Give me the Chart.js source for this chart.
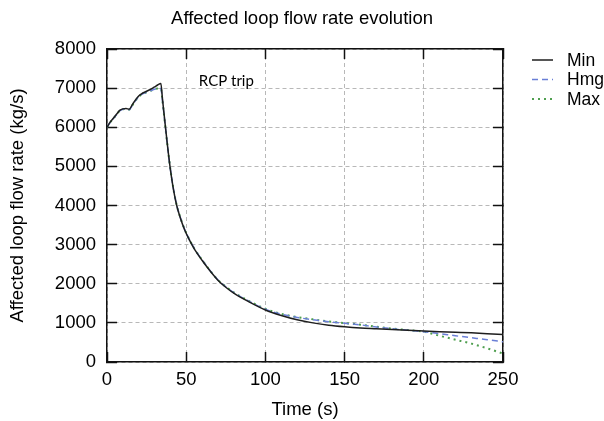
<!DOCTYPE html>
<html>
<head>
<meta charset="utf-8">
<script src="https://cdn.jsdelivr.net/npm/chart.js@4.4.0/dist/chart.umd.min.js"></script>
<style>
  html, body { margin: 0; padding: 0; background: #fff; }
  #wrap { width: 604px; height: 421px; }
</style>
</head>
<body>
<div id="wrap"><canvas id="c" width="604" height="421"></canvas></div>
<script>
// ---- data ----
const times = [0, 2, 4, 6, 8, 10, 12, 14, 16, 18, 20, 22, 24, 26, 28, 30, 32, 34, 35, 36, 37, 38, 39, 40, 42, 44, 46, 49, 52, 55, 60, 65, 70, 75, 80, 90, 100, 110, 120, 130, 140, 150, 160, 170, 180, 190, 200, 210, 220, 230, 240, 250];

const minFlow = [6000, 6130, 6230, 6330, 6430, 6470, 6480, 6460, 6580, 6700, 6800, 6860, 6900, 6940, 6980, 7030, 7080, 7120, 6730, 6350, 5970, 5600, 5250, 4930, 4400, 4000, 3720, 3380, 3120, 2900, 2600, 2330, 2090, 1910, 1760, 1530, 1330, 1190, 1080, 1000, 940, 900, 870, 850, 830, 810, 790, 775, 760, 745, 725, 700];

const hmgFlow = [6000, 6120, 6220, 6320, 6420, 6460, 6470, 6450, 6560, 6680, 6780, 6840, 6880, 6910, 6940, 6970, 6990, 6990, 6680, 6320, 5950, 5590, 5245, 4930, 4410, 4010, 3730, 3390, 3130, 2910, 2610, 2340, 2100, 1920, 1775, 1545, 1350, 1220, 1140, 1080, 1030, 990, 950, 895, 850, 810, 775, 725, 670, 620, 570, 515];

const maxFlow = [6000, 6120, 6220, 6320, 6420, 6460, 6470, 6450, 6560, 6680, 6780, 6840, 6880, 6910, 6940, 6970, 6990, 6990, 6680, 6320, 5950, 5590, 5245, 4930, 4410, 4010, 3730, 3390, 3130, 2910, 2610, 2340, 2100, 1925, 1780, 1550, 1360, 1230, 1150, 1090, 1035, 995, 955, 900, 855, 815, 775, 670, 570, 470, 350, 215];

const seriesLabels = ['Min', 'Hmg', 'Max'];
const xTicks = [0, 50, 100, 150, 200, 250];
const yTicks = [0, 1000, 2000, 3000, 4000, 5000, 6000, 7000, 8000];
const annotationText = 'RCP trip';
const annotationAt = { x: 58, y: 7050 };

// ---- chart ----
const FONT = 'Liberation Sans';
Chart.defaults.color = '#000';
Chart.defaults.font.family = FONT;

const toPoints = (vals) => times.map((t, i) => ({ x: t, y: vals[i] }));
const plainLabel = (v) => String(v);

const gridCommon = {
  color: '#b8b8b8',
  lineWidth: 1,
  drawTicks: true,
  tickLength: -10,
  tickColor: '#111',
  tickWidth: 1.5,
};
const borderCommon = { display: true, color: '#111', width: 1.5, dash: [4, 3] };

const sideLegend = {
  id: 'sideLegend',
  afterDraw(chart) {
    const ctx = chart.ctx;
    const x0 = chart.chartArea.right + 29;
    ctx.save();
    chart.data.datasets.forEach((ds, i) => {
      const y = 60 + i * 19.5;
      ctx.strokeStyle = ds.borderColor;
      ctx.lineWidth = ds.borderWidth;
      ctx.setLineDash(ds.borderDash || []);
      ctx.beginPath();
      ctx.moveTo(x0, y);
      ctx.lineTo(x0 + 21, y);
      ctx.stroke();
      ctx.setLineDash([]);
      ctx.fillStyle = '#000';
      ctx.font = '17.5px "' + FONT + '"';
      ctx.textAlign = 'left';
      ctx.textBaseline = 'alphabetic';
      ctx.fillText(ds.label, x0 + 35, y + 5.7);
    });
    ctx.restore();
  }
};

const noteText = {
  id: 'noteText',
  afterDatasetsDraw(chart) {
    const ctx = chart.ctx;
    const px = chart.scales.x.getPixelForValue(annotationAt.x);
    const py = chart.scales.y.getPixelForValue(annotationAt.y);
    ctx.save();
    ctx.fillStyle = '#000';
    ctx.font = '15px Lato';
    ctx.textAlign = 'left';
    ctx.textBaseline = 'alphabetic';
    ctx.fillText(annotationText, px, py);
    ctx.restore();
  }
};

new Chart(document.getElementById('c'), {
  type: 'line',
  data: {
    datasets: [
      { label: seriesLabels[0], data: toPoints(minFlow), borderColor: '#1e1e1e', borderWidth: 1.5, borderDash: [], pointRadius: 0, fill: false, cubicInterpolationMode: 'monotone' },
      { label: seriesLabels[1], data: toPoints(hmgFlow), borderColor: '#6a7fd6', borderWidth: 1.5, borderDash: [6, 4], pointRadius: 0, fill: false, cubicInterpolationMode: 'monotone' },
      { label: seriesLabels[2], data: toPoints(maxFlow), borderColor: '#4f9f4f', borderWidth: 2, borderDash: [2, 4], pointRadius: 0, fill: false, cubicInterpolationMode: 'monotone' }
    ]
  },
  options: {
    responsive: false,
    animation: false,
    events: [],
    layout: { padding: 0 },
    plugins: {
      legend: { display: false },
      tooltip: { enabled: false },
      title: {
        display: true,
        text: 'Affected loop flow rate evolution',
        color: '#000',
        font: { family: FONT, size: 18.5, weight: 'normal' },
        padding: { top: 7.4, bottom: 19.4 }
      }
    },
    scales: {
      x: {
        type: 'linear', position: 'bottom', min: 0, max: 250,
        afterBuildTicks: (s) => { s.ticks = xTicks.map(v => ({ value: v })); },
        afterFit: (s) => { s.height = 59; },
        grid: { ...gridCommon },
        border: { ...borderCommon },
        ticks: { font: { size: 18.5 }, padding: 17, maxRotation: 0, autoSkip: false, color: '#000', callback: plainLabel },
        title: { display: true, text: 'Time (s)', font: { size: 18.5 }, color: '#000', padding: { top: 0, bottom: 0 } }
      },
      y: {
        type: 'linear', position: 'left', min: 0, max: 8000,
        afterBuildTicks: (s) => { s.ticks = yTicks.map(v => ({ value: v })); },
        afterFit: (s) => { s.width = 107; },
        grid: { ...gridCommon },
        border: { ...borderCommon },
        ticks: { font: { size: 18.5 }, padding: 21, autoSkip: false, color: '#000', callback: plainLabel },
        title: { display: true, text: 'Affected loop flow rate (kg/s)', font: { size: 18.5 }, color: '#000', padding: { top: 6.4, bottom: 0 } }
      },
      x2: {
        type: 'linear', position: 'top', min: 0, max: 250,
        afterBuildTicks: (s) => { s.ticks = xTicks.map(v => ({ value: v })); },
        afterFit: (s) => { s.height = 0; },
        grid: { ...gridCommon, drawOnChartArea: false },
        border: { ...borderCommon },
        ticks: { display: false }
      },
      y2: {
        type: 'linear', position: 'right', min: 0, max: 8000,
        afterBuildTicks: (s) => { s.ticks = yTicks.map(v => ({ value: v })); },
        afterFit: (s) => { s.width = 101; },
        grid: { ...gridCommon, drawOnChartArea: false },
        border: { ...borderCommon },
        ticks: { display: false }
      }
    }
  },
  plugins: [sideLegend, noteText]
});
</script>
</body>
</html>
